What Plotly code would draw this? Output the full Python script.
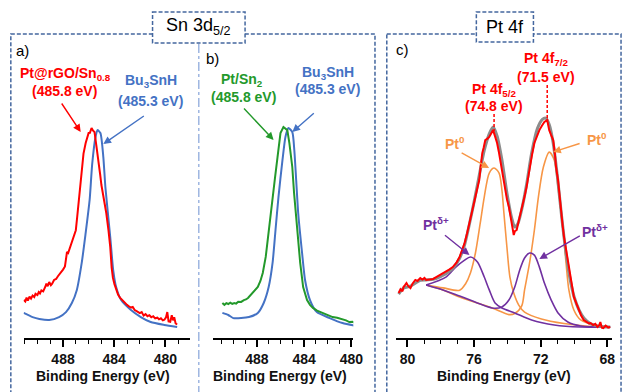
import plotly.graph_objects as go

# ---------------- data (binding energy eV, normalised intensity a.u.) ----------------
a_red = [(491.08, 0.183), (490.95, 0.176), (490.85, 0.195), (490.75, 0.180), (490.62, 0.200), (490.50, 0.190),
         (490.38, 0.205), (490.25, 0.198), (490.15, 0.213), (490.00, 0.207), (489.90, 0.222), (489.80, 0.215),
         (489.69, 0.230), (489.55, 0.225), (489.40, 0.245), (489.30, 0.262), (489.20, 0.250), (489.08, 0.270),
         (488.95, 0.255), (488.85, 0.262), (488.70, 0.280), (488.54, 0.285), (488.40, 0.298), (488.30, 0.305),
         (488.15, 0.318), (488.00, 0.330), (487.85, 0.345), (487.75, 0.380), (487.69, 0.415), (487.60, 0.410),
         (487.50, 0.430), (487.40, 0.440), (487.30, 0.460), (487.15, 0.490), (487.00, 0.520), (486.90, 0.580),
         (486.77, 0.666), (486.65, 0.750), (486.54, 0.825), (486.40, 0.890), (486.23, 0.941), (486.10, 0.965),
         (486.00, 0.989), (485.90, 0.990), (485.77, 1.013), (485.65, 1.000), (485.54, 0.994), (485.40, 0.930),
         (485.23, 0.859), (485.10, 0.790), (485.00, 0.738), (484.80, 0.670), (484.62, 0.603), (484.45, 0.520),
         (484.31, 0.439), (484.20, 0.340), (484.10, 0.290), (483.98, 0.260), (483.85, 0.235), (483.70, 0.210),
         (483.55, 0.195), (483.40, 0.185), (483.30, 0.175), (483.15, 0.168), (483.00, 0.160), (482.85, 0.152),
         (482.69, 0.147), (482.55, 0.150), (482.40, 0.135), (482.25, 0.130), (482.15, 0.125), (482.00, 0.120),
         (481.85, 0.125), (481.70, 0.108), (481.55, 0.115), (481.40, 0.105), (481.25, 0.110), (481.10, 0.100),
         (480.95, 0.105), (480.80, 0.095), (480.62, 0.098), (480.50, 0.090), (480.35, 0.095), (480.20, 0.085),
         (480.08, 0.088), (479.95, 0.100), (479.85, 0.125), (479.75, 0.080), (479.62, 0.078), (479.50, 0.110),
         (479.40, 0.085), (479.31, 0.100), (479.20, 0.070), (479.08, 0.065)]

a_blue = [(491.08, 0.121), (490.38, 0.101), (489.85, 0.092), (489.08, 0.087), (488.31, 0.101), (487.77, 0.125),
          (487.31, 0.169), (486.92, 0.232), (486.54, 0.362), (486.23, 0.507), (485.92, 0.666), (485.72, 0.840),
          (485.46, 0.970), (485.31, 1.003), (485.08, 0.989), (484.85, 0.873), (484.69, 0.728), (484.31, 0.487),
          (484.08, 0.328), (483.85, 0.246), (483.46, 0.183), (482.69, 0.135), (481.92, 0.101), (481.15, 0.077),
          (480.08, 0.063), (479.08, 0.053)]

b_green = [(490.92, 0.169), (490.75, 0.160), (490.58, 0.168), (490.42, 0.164), (490.25, 0.170), (490.08, 0.165),
           (489.92, 0.169), (489.75, 0.166), (489.58, 0.175), (489.33, 0.174), (489.10, 0.183), (488.92, 0.186),
           (488.75, 0.193), (488.55, 0.205), (488.33, 0.217), (488.10, 0.232), (487.92, 0.246), (487.70, 0.275),
           (487.50, 0.314), (487.25, 0.391), (487.00, 0.521), (486.67, 0.666), (486.45, 0.780), (486.25, 0.873),
           (486.00, 0.989), (485.75, 1.018), (485.42, 1.003), (485.25, 0.941), (485.00, 0.825), (484.85, 0.700),
           (484.58, 0.521), (484.33, 0.362), (484.08, 0.246), (483.75, 0.183), (483.50, 0.160), (483.25, 0.145),
           (482.90, 0.132), (482.42, 0.121), (482.00, 0.110), (481.58, 0.101), (481.20, 0.098), (480.75, 0.092),
           (480.45, 0.085), (480.17, 0.077), (479.90, 0.078), (479.58, 0.072)]

b_blue = [(490.92, 0.121), (490.42, 0.111), (490.00, 0.096), (489.33, 0.096), (488.67, 0.101), (487.92, 0.121),
          (487.42, 0.169), (487.00, 0.246), (486.67, 0.362), (486.42, 0.521), (486.17, 0.680), (485.83, 0.859),
          (485.58, 0.970), (485.33, 1.013), (485.00, 0.994), (484.83, 0.907), (484.67, 0.762), (484.50, 0.603),
          (484.17, 0.410), (483.92, 0.280), (483.50, 0.183), (482.92, 0.125), (481.83, 0.096), (480.75, 0.072),
          (479.58, 0.058)]

c_red = [(80.53, 0.217), (80.42, 0.235), (80.30, 0.225), (80.24, 0.246), (80.15, 0.255), (80.06, 0.265),
         (79.95, 0.250), (79.82, 0.241), (79.70, 0.262), (79.53, 0.280), (79.40, 0.275), (79.23, 0.289),
         (79.10, 0.282), (78.98, 0.290), (78.88, 0.280), (78.70, 0.283), (78.46, 0.285), (78.25, 0.295),
         (78.05, 0.304), (77.85, 0.312), (77.69, 0.318), (77.50, 0.330), (77.28, 0.342), (77.05, 0.365),
         (76.87, 0.391), (76.70, 0.425), (76.57, 0.458), (76.42, 0.505), (76.28, 0.555), (76.12, 0.610),
         (75.98, 0.666), (75.85, 0.710), (75.69, 0.762), (75.60, 0.830), (75.51, 0.892), (75.42, 0.920),
         (75.33, 0.955), (75.20, 0.962), (75.09, 0.970), (74.95, 0.990), (74.86, 1.003), (74.75, 0.975),
         (74.62, 0.941), (74.52, 0.900), (74.44, 0.859), (74.32, 0.810), (74.21, 0.762), (74.15, 0.714),
         (74.03, 0.670), (73.91, 0.632), (73.82, 0.590), (73.73, 0.555), (73.62, 0.497), (73.55, 0.515),
         (73.44, 0.521), (73.35, 0.555), (73.26, 0.584), (73.15, 0.615), (73.03, 0.651), (72.95, 0.690),
         (72.85, 0.728), (72.75, 0.780), (72.67, 0.825), (72.52, 0.885), (72.38, 0.941), (72.22, 0.975),
         (72.08, 1.003), (71.92, 1.025), (71.78, 1.042), (71.61, 1.052), (71.49, 1.003), (71.38, 0.980),
         (71.25, 0.955), (71.15, 0.890), (71.08, 0.825), (70.96, 0.762), (70.87, 0.680), (70.78, 0.603),
         (70.68, 0.540), (70.60, 0.487), (70.48, 0.430), (70.37, 0.376), (70.28, 0.325), (70.19, 0.280),
         (70.10, 0.235), (70.01, 0.198), (69.85, 0.165), (69.72, 0.135), (69.58, 0.110), (69.42, 0.087),
         (69.25, 0.080), (69.10, 0.070), (69.01, 0.072), (68.85, 0.062), (68.72, 0.068), (68.59, 0.053),
         (68.50, 0.060), (68.42, 0.077), (68.33, 0.050), (68.24, 0.048), (68.10, 0.060), (67.95, 0.050),
         (67.83, 0.053)]

c_fit = [(80.53, 0.212), (80.24, 0.240), (79.82, 0.250), (79.23, 0.278), (78.88, 0.280), (78.46, 0.283),
         (78.05, 0.295), (77.69, 0.310), (77.28, 0.335), (76.87, 0.385), (76.57, 0.450), (76.28, 0.550),
         (75.98, 0.665), (75.69, 0.785), (75.39, 0.905), (75.09, 0.985), (74.86, 1.018), (74.62, 0.975),
         (74.33, 0.860), (74.03, 0.700), (73.73, 0.575), (73.56, 0.535), (73.38, 0.550), (73.14, 0.620),
         (72.85, 0.740), (72.55, 0.890), (72.20, 1.010), (71.90, 1.055), (71.70, 1.061), (71.49, 1.030),
         (71.25, 0.940), (71.00, 0.780), (70.75, 0.590), (70.50, 0.420), (70.25, 0.290), (70.00, 0.200),
         (69.70, 0.135), (69.40, 0.095), (69.00, 0.068), (68.50, 0.057), (67.83, 0.053)]

c_pt0_a = [(78.88, 0.256), (77.87, 0.242), (76.87, 0.230), (76.51, 0.262), (76.22, 0.314), (75.92, 0.410),
           (75.63, 0.555), (75.39, 0.680), (75.09, 0.796), (74.80, 0.820), (74.50, 0.796), (74.33, 0.714),
           (74.21, 0.603), (74.03, 0.439), (73.85, 0.294), (73.62, 0.217), (73.32, 0.159), (72.97, 0.125),
           (71.96, 0.092), (70.60, 0.070), (69.18, 0.057), (67.83, 0.053)]

c_pt0_b = [(78.88, 0.256), (77.87, 0.232), (76.87, 0.198), (74.92, 0.145), (73.91, 0.113), (73.56, 0.118),
           (73.14, 0.155), (72.97, 0.232), (72.67, 0.362), (72.38, 0.521), (72.14, 0.680), (71.84, 0.825),
           (71.49, 0.897), (71.19, 0.859), (70.96, 0.728), (70.66, 0.521), (70.48, 0.362), (70.31, 0.232),
           (70.01, 0.135), (69.60, 0.087), (68.83, 0.063), (67.83, 0.053)]

c_ptd_a = [(78.88, 0.256), (77.69, 0.294), (77.10, 0.342), (76.57, 0.376), (76.22, 0.391), (75.80, 0.367),
           (75.39, 0.294), (75.09, 0.232), (74.74, 0.169), (74.33, 0.145), (73.56, 0.121), (72.55, 0.087),
           (71.19, 0.063), (69.60, 0.053), (67.83, 0.053)]

c_ptd_b = [(78.88, 0.256), (77.87, 0.232), (76.87, 0.203), (74.92, 0.145), (74.33, 0.150), (73.91, 0.183),
           (73.56, 0.246), (73.26, 0.328), (72.97, 0.386), (72.67, 0.410), (72.38, 0.400), (72.08, 0.342),
           (71.78, 0.265), (71.37, 0.183), (70.96, 0.121), (70.37, 0.077), (69.60, 0.058), (67.83, 0.053)]

ticks_ab = [488, 484, 480]
ticks_c = [80, 76, 72, 68]

# ---------------- styling ----------------
W, H = 633, 392
RED = '#FF0000'
BLUE = '#4472C4'
GREEN = '#23992B'
ORANGE = '#F79646'
PURPLE = '#7030A0'
GREY = '#8C8C8C'
BOX = '#44679F'
BOX2 = '#8FAADC'
FONT = 'Liberation Sans, Arial, sans-serif'


def px(x):
    return x / W


def py(y):
    return 1 - y / H


fig = go.Figure()


def add(series, color, axis, width=2.0, shape='linear', smooth=None):
    xs = [p[0] for p in series]
    ys = [p[1] for p in series]
    line = dict(color=color, width=width, shape=shape)
    if smooth is not None:
        line['smoothing'] = smooth
    fig.add_trace(go.Scatter(x=xs, y=ys, mode='lines', line=line,
                             xaxis='x' + axis, yaxis='y' + axis, hoverinfo='skip'))


add(a_blue, BLUE, '', 2.0, 'spline', 0.6)
add(a_red, RED, '', 2.0)
add(b_blue, BLUE, '2', 2.0, 'spline', 0.6)
add(b_green, GREEN, '2', 2.0)
add(c_pt0_a, ORANGE, '3', 1.6, 'spline', 0.8)
add(c_pt0_b, ORANGE, '3', 1.6, 'spline', 0.8)
add(c_ptd_a, PURPLE, '3', 1.6, 'spline', 0.8)
add(c_ptd_b, PURPLE, '3', 1.6, 'spline', 0.8)
add(c_fit, GREY, '3', 3.0, 'spline', 0.7)
add(c_red, RED, '3', 2.0)


def xaxis(rng, x0, x1, ticks, tick0, anchor):
    return dict(range=rng, domain=[px(x0), px(x1)], anchor=anchor,
                showline=True, linecolor='black', linewidth=1.5, mirror=False,
                showgrid=False, zeroline=False,
                ticks='outside', ticklen=7, tickwidth=1.5, tickcolor='black',
                tickmode='array', tickvals=ticks, ticktext=[str(t) for t in ticks],
                tickfont=dict(family=FONT, size=14, color='#111', weight='bold'),
                minor=dict(ticks='outside', ticklen=4, tickwidth=1.3, tickcolor='black',
                           tickmode='linear', tick0=tick0, dtick=1, showgrid=False),
                fixedrange=True)


def yaxis(anchor):
    return dict(range=[0, 1.1], domain=[py(338), py(110)], anchor=anchor,
                visible=False, showgrid=False, zeroline=False, fixedrange=True)


layout = dict(
    width=W, height=H, margin=dict(l=0, r=0, t=0, b=0),
    paper_bgcolor='white', plot_bgcolor='white', showlegend=False,
    xaxis=xaxis([491.08, 478.08], 24, 193, ticks_ab, 480, 'y'),
    xaxis2=xaxis([491.75, 479.83], 216, 359, ticks_ab, 480, 'y2'),
    xaxis3=xaxis([80.71, 67.71], 402, 622, ticks_c, 68, 'y3'),
    yaxis=yaxis('x'), yaxis2=yaxis('x2'), yaxis3=yaxis('x3'),
)
fig.update_layout(**layout)

# ---------------- frames ----------------
shapes = []


def rect(x0, y0, x1, y1, color=BOX, dash='4px,2px', fill=None, width=1.5):
    shapes.append(dict(type='rect', xref='paper', yref='paper',
                       x0=px(x0), x1=px(x1), y0=py(y0), y1=py(y1),
                       line=dict(color=color, width=width, dash=dash),
                       fillcolor=fill if fill else 'rgba(0,0,0,0)'))


def vline(x, y0, y1, color, dash, width=1.5):
    shapes.append(dict(type='line', xref='paper', yref='paper',
                       x0=px(x), x1=px(x), y0=py(y0), y1=py(y1),
                       line=dict(color=color, width=width, dash=dash)))


rect(11, 34, 381, 420)
rect(393, 34, 631, 420)
vline(202, 44, 420, BOX2, 'dashdot', 1.3)
rect(155, 12, 249, 43, fill='white')
rect(484, 12, 542, 42, fill='white')
# dashed guides from peak labels
vline(502, 114, 131, RED, '3px,2px', 1.5)
vline(556, 85, 121, RED, '3px,2px', 1.5)
fig.update_layout(shapes=shapes)

# ---------------- text ----------------
ann = []


def text(t, x, y, color='black', size=14, bold=True):
    ann.append(dict(text=t, x=px(x), y=py(y), xref='paper', yref='paper',
                    xanchor='center', yanchor='middle', showarrow=False,
                    font=dict(family=FONT, size=size, color=color,
                              weight='bold' if bold else 'normal')))


def arrow(x0, y0, x1, y1, color):
    ann.append(dict(text='', x=px(x1), y=py(y1), xref='paper', yref='paper',
                    ax=x0 - x1, ay=y0 - y1, axref='pixel', ayref='pixel',
                    showarrow=True, arrowhead=2, arrowsize=1.1, arrowwidth=1.4,
                    arrowcolor=color))


text('Sn 3d<sub>5/2</sub>', 202, 27, size=18, bold=False)
text('Pt 4f', 513, 27, size=18, bold=False)
text('a)', 23, 51, size=15, bold=False)
text('b)', 216, 59, size=15, bold=False)
text('c)', 409, 50, size=15, bold=False)

text('Pt@rGO/Sn<sub>0.8</sub>', 67, 74, RED)
text('(485.8 eV)', 66, 91, RED)
text('Bu<sub>3</sub>SnH', 153, 81, BLUE)
text('(485.3 eV)', 153, 101, BLUE)
arrow(62, 102, 82, 132, RED)
arrow(147, 115, 105, 144, BLUE)

text('Pt/Sn<sub>2</sub>', 246, 80, GREEN)
text('(485.8 eV)', 247, 97, GREEN)
text('Bu<sub>3</sub>SnH', 333, 73, BLUE)
text('(485.3 eV)', 333, 89, BLUE)
arrow(247, 107, 278, 140, GREEN)
arrow(320, 112, 297, 132, BLUE)

text('Pt 4f<sub>7/2</sub>', 555, 59, RED)
text('(71.5 eV)', 555, 77, RED)
text('Pt 4f<sub>5/2</sub>', 502, 90, RED)
text('(74.8 eV)', 502, 106, RED)

text('Pt<sup>0</sup>', 462, 143, ORANGE)
text('Pt<sup>0</sup>', 607, 139, ORANGE)
text('Pt<sup>δ+</sup>', 443, 224, PURPLE)
text('Pt<sup>δ+</sup>', 605, 231, PURPLE)
arrow(468, 152, 497, 168, ORANGE)
arrow(590, 143, 562, 152, ORANGE)
arrow(451, 234, 477, 255, PURPLE)
arrow(590, 235, 548, 259, PURPLE)

for cx in (105, 285, 512):
    text('Binding Energy (eV)', cx, 376, '#111', size=14)

fig.update_layout(annotations=ann)

fig.write_html('out.html')
